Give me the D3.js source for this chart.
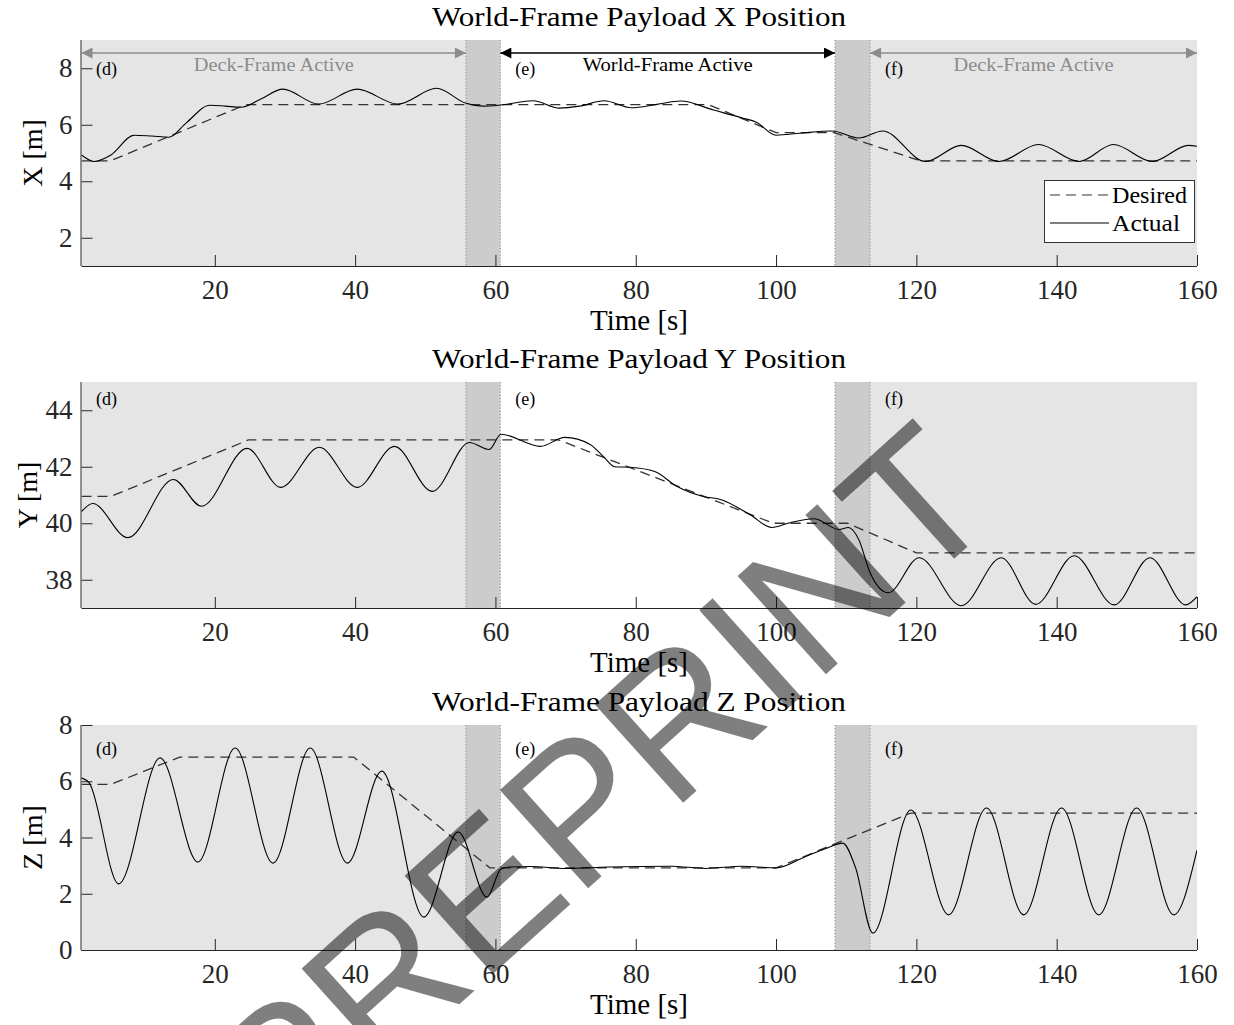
<!DOCTYPE html>
<html>
<head>
<meta charset="UTF-8">
<title></title>
<script src="https://cdn.jsdelivr.net/npm/d3@7/dist/d3.min.js"></script>
<style>
    body{margin:0;background:#fff;}
    text{font-family:"Liberation Serif","Times New Roman",serif;}
</style>
</head>
<body>
<script>
    // time axis and phase boundaries (s)
    var timeDomain=[1,160];
    var timeTicks=[20,40,60,80,100,120,140,160];
    var phaseEdges=[55.8,60.7,108.4,113.4];

    // X position [m]
    var xTicks=[2,4,6,8];
    var desiredX=[[1,4.72],[5.1,4.72],[24.4,6.71],[90.4,6.71],[100,5.72],[108.3,5.72],[120.6,4.72],[160,4.72]];
    var actualX=[[1,4.93],[2.8,4.7],[5.2,4.93],[8.5,5.63],[11,5.6],[13.5,5.56],[15.9,6.06],[19.3,6.69],[21.5,6.66],
        [23.7,6.62],[26.5,6.9],[29.7,7.26],[34.8,6.73],[40.3,7.26],[46.1,6.73],[51.6,7.29],[55.8,6.76],[58.3,6.66],
        [60.8,6.7],[65.4,6.85],[69.1,6.59],[72,6.66],[75.5,6.85],[79.4,6.6],[83,6.72],[86.4,6.84],[91.1,6.52],
        [95.2,6.24],[97.2,6.09],[100,5.63],[103.4,5.7],[108,5.78],[111.8,5.53],[115.2,5.78],[121.3,4.7],[126.4,5.27],
        [131.8,4.7],[137.4,5.3],[143.2,4.7],[148.1,5.3],[153.6,4.7],[158.8,5.27],[160,5.24]];

    // Y position [m]
    var yTicks=[38,40,42,44];
    var desiredY=[[1,40.95],[5.2,40.95],[24.8,42.95],[69,42.95],[99.6,40.0],[110.2,40.0],[120,38.95],[160,38.95]];
    var actualY=[[1,40.41],[2.6,40.7],[7.6,39.49],[14.1,41.55],[18.1,40.6],[24.6,42.65],[29.4,41.27],[34.9,42.69],
        [40.3,41.27],[45.6,42.72],[51,41.13],[56.3,42.86],[59.1,42.61],[60.8,43.15],[66.4,42.72],[69.9,43.04],
        [73.5,42.79],[75.5,42.33],[77,42.0],[79.2,41.98],[82.7,41.83],[85.9,41.3],[89.6,40.95],[92.1,40.84],
        [96.3,40.3],[99.4,39.85],[102,40.02],[105.4,40.16],[109,39.78],[110.3,39.85],[111.8,39.42],[113.4,38.25],
        [116,37.54],[120.4,38.78],[126.4,37.08],[132.1,38.78],[137,37.13],[142.5,38.85],[148.2,37.11],[153.3,38.78],
        [158.4,37.11],[160,37.4]];

    // Z position [m]
    var zTicks=[0,2,4,6,8];
    var desiredZ=[[1,5.89],[5.2,5.89],[15,6.86],[39.8,6.86],[59.2,2.92],[100,2.92],[119.2,4.87],[160,4.87]];
    var actualZ=[[1,6.12],[2.1,5.94],[6.3,2.35],[12.2,6.83],[17.6,3.13],[22.9,7.18],[28.3,3.09],[33.6,7.18],
        [38.9,3.09],[43.8,6.36],[49.8,1.17],[54.7,4.2],[58.8,1.88],[60.8,2.88],[62,2.95],[65,2.97],[70,2.9],
        [76,2.95],[85,2.98],[90,2.9],[95,2.98],[100,2.92],[104,3.3],[107,3.6],[109.5,3.8],[111.3,2.95],[113.8,0.6],
        [119.2,4.98],[124.6,1.25],[130,5.05],[135.3,1.25],[140.7,5.05],[146,1.25],[151.4,5.05],[156.7,1.25],[160,3.55]];

    var panels=[
        {title:"World-Frame Payload X Position",label:"X [m]",top:40,bottom:266,domain:[1,9],ticks:xTicks,desired:desiredX,actual:actualX,labelX:42,secY:75},
        {title:"World-Frame Payload Y Position",label:"Y [m]",top:382,bottom:608,domain:[37,45],ticks:yTicks,desired:desiredY,actual:actualY,labelX:37,secY:405},
        {title:"World-Frame Payload Z Position",label:"Z [m]",top:725,bottom:950,domain:[0,8],ticks:zTicks,desired:desiredZ,actual:actualZ,labelX:42,secY:755}
    ];

    var W=1234,H=1025;
    var svg=d3.select("body").append("svg").attr("width",W).attr("height",H);
    var x=d3.scaleLinear().domain(timeDomain).range([81.5,1197]);

    var defs=svg.append("defs");
    [["arrGray","#8c8c8c"],["arrBlack","#000"]].forEach(function(m){
        defs.append("marker").attr("id",m[0]).attr("viewBox","0 0 10 10")
            .attr("refX",10).attr("refY",5).attr("markerWidth",14).attr("markerHeight",11)
            .attr("markerUnits","userSpaceOnUse").attr("orient","auto-start-reverse")
            .append("path").attr("d","M0,0L10,5L0,10Z").attr("fill",m[1]);
    });

    panels.forEach(function(p,pi){
        var y=d3.scaleLinear().domain(p.domain).range([p.bottom,p.top]);
        var g=svg.append("g");
        var clipId="clip"+pi;
        defs.append("clipPath").attr("id",clipId).append("rect")
            .attr("x",x(timeDomain[0])).attr("y",p.top)
            .attr("width",x(timeDomain[1])-x(timeDomain[0])).attr("height",p.bottom-p.top);

        // phase shading
        var bands=[
            [timeDomain[0],phaseEdges[0],"#e5e5e5"],
            [phaseEdges[0],phaseEdges[1],"#cccccc"],
            [phaseEdges[2],phaseEdges[3],"#cccccc"],
            [phaseEdges[3],timeDomain[1],"#e5e5e5"]
        ];
        g.selectAll("rect.band").data(bands).enter().append("rect")
            .attr("x",function(d){return x(d[0]);})
            .attr("y",p.top)
            .attr("width",function(d){return x(d[1])-x(d[0]);})
            .attr("height",p.bottom-p.top)
            .style("fill",function(d){return d[2];});
        g.selectAll("line.edge").data(phaseEdges).enter().append("line")
            .attr("x1",function(d){return x(d);}).attr("x2",function(d){return x(d);})
            .attr("y1",p.top).attr("y2",p.bottom)
            .style("stroke","#8a8a8a").style("stroke-width",1).style("stroke-dasharray","1.2,2");

        // section labels
        var secs=[[0,"(d)"],[phaseEdges[1],"(e)"],[phaseEdges[3],"(f)"]];
        g.selectAll("text.sec").data(secs).enter().append("text")
            .attr("x",function(d){return d[0]===0?96:x(d[0])+15;})
            .attr("y",p.secY)
            .style("font-size","18px")
            .text(function(d){return d[1];});

        // axes
        var ay=g.append("g").attr("transform","translate("+x(timeDomain[0])+",0)")
            .call(d3.axisLeft(y).tickValues(p.ticks).tickSizeInner(-11).tickSizeOuter(0).tickPadding(9));
        var ax=g.append("g").attr("transform","translate(0,"+p.bottom+")")
            .call(d3.axisBottom(x).tickValues(timeTicks).tickSizeInner(-11).tickSizeOuter(0).tickPadding(14));
        [ax,ay].forEach(function(a){
            a.selectAll("path,line").style("stroke","#262626").style("stroke-width",1);
            a.selectAll("text").style("font-family","'Liberation Serif',serif").style("font-size","27px").style("fill","#262626");
        });
        ax.select(".domain").attr("d","M"+x(timeDomain[0])+",0.5H"+x(timeDomain[1]));
        ay.select(".domain").attr("d","M-0.5,"+p.top+"V"+p.bottom);

        // lines
        var line=d3.line().x(function(d){return x(d[0]);}).y(function(d){return y(d[1]);});
        var plot=g.append("g").attr("clip-path","url(#"+clipId+")");
        plot.append("path").datum(p.desired)
            .attr("d",line.curve(d3.curveLinear))
            .style("fill","none").style("stroke","#333").style("stroke-width",1.3).style("stroke-dasharray","10,6");
        plot.append("path").datum(p.actual)
            .attr("d",line.curve(d3.curveMonotoneX))
            .style("fill","none").style("stroke","#000").style("stroke-width",1.1);

        // titles
        g.append("text").attr("x",639).attr("y",p.top-14)
            .attr("text-anchor","middle").attr("textLength",414).attr("lengthAdjust","spacingAndGlyphs")
            .style("font-size","28px").text(p.title);
        g.append("text").attr("x",639).attr("y",p.bottom+64)
            .attr("text-anchor","middle")
            .style("font-size","29px").text("Time [s]");
        g.append("text").attr("transform","translate("+p.labelX+","+((p.top+p.bottom)/2)+") rotate(-90)")
            .attr("text-anchor","middle")
            .style("font-size","28px").text(p.label);

        if(pi===0){
            // active-frame annotations
            var spans=[
                [timeDomain[0],phaseEdges[0],"Deck-Frame Active","#8c8c8c","arrGray"],
                [phaseEdges[1],phaseEdges[2],"World-Frame Active","#000","arrBlack"],
                [phaseEdges[3],timeDomain[1],"Deck-Frame Active","#8c8c8c","arrGray"]
            ];
            spans.forEach(function(s){
                g.append("line").attr("x1",x(s[0])).attr("x2",x(s[1])).attr("y1",53).attr("y2",53)
                    .style("stroke",s[3]).style("stroke-width",1.3)
                    .attr("marker-start","url(#"+s[4]+")").attr("marker-end","url(#"+s[4]+")");
                g.append("text").attr("x",(x(s[0])+x(s[1]))/2).attr("y",71)
                    .attr("text-anchor","middle").attr("textLength",s[2].length>17?170:160)
                    .attr("lengthAdjust","spacingAndGlyphs")
                    .style("font-size","19px").style("fill",s[3]).text(s[2]);
            });

            // legend
            var lg=g.append("g");
            lg.append("rect").attr("x",1044.5).attr("y",180.5).attr("width",150).attr("height",62)
                .style("fill","#fff").style("stroke","#333").style("stroke-width",1);
            lg.append("line").attr("x1",1050).attr("x2",1109).attr("y1",195).attr("y2",195)
                .style("stroke","#333").style("stroke-width",1.2).style("stroke-dasharray","10,6");
            lg.append("line").attr("x1",1050).attr("x2",1109).attr("y1",223).attr("y2",223)
                .style("stroke","#000").style("stroke-width",1.1);
            lg.append("text").attr("x",1112).attr("y",203).attr("textLength",75).attr("lengthAdjust","spacingAndGlyphs")
                .style("font-size","24px").text("Desired");
            lg.append("text").attr("x",1112).attr("y",231).attr("textLength",68).attr("lengthAdjust","spacingAndGlyphs")
                .style("font-size","24px").text("Actual");
        }
    });

    // preprint watermark
    svg.append("text").attr("transform","translate(283,1163) rotate(-42)")
        .style("font-family","'Liberation Sans',Arial,sans-serif").style("font-size","192px")
        .style("fill","#000").style("fill-opacity",0.5)
        .text("PREPRINT");
</script>
</body>
</html>
